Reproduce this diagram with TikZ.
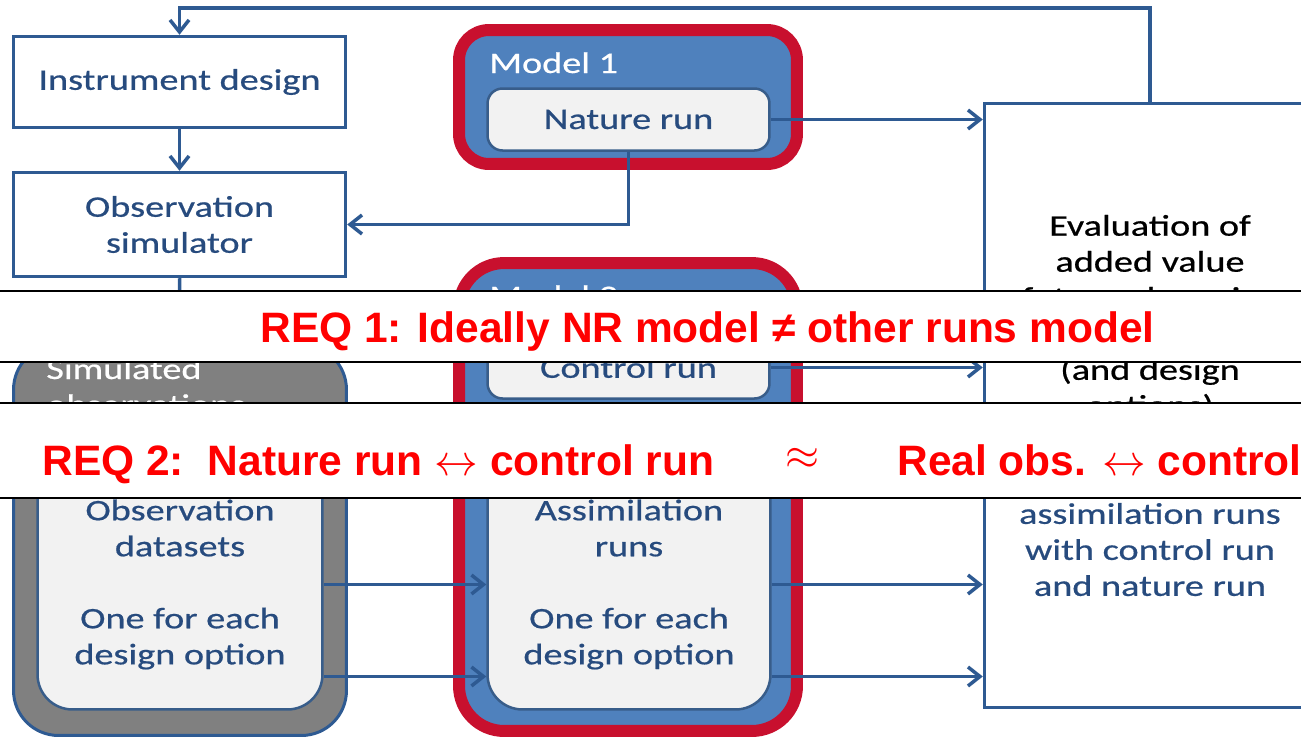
\documentclass[tikz,border=0pt]{standalone}
\usepackage{fontspec}
\setmainfont[FakeStretch=1.28, FakeBold=0.6]{Carlito}
\newfontfamily\reqfont{Liberation Sans}
\usetikzlibrary{arrows.meta}
\definecolor{linkblue}{HTML}{2E5A92}
\definecolor{txtblue}{HTML}{274B7E}
\definecolor{modelblue}{HTML}{4F81BD}
\definecolor{ringred}{HTML}{C8102E}
\definecolor{paleface}{HTML}{F2F2F2}
\definecolor{edgeblue}{HTML}{385D8A}
\tikzset{>={Straight Barb[length=2.4mm,width=3.8mm]}}
\tikzset{link/.style={draw=linkblue, line width=0.07cm}}
\tikzset{boxfont/.style={font=\fontsize{17}{20.5}\selectfont}}
\tikzset{plainbox/.style={boxfont, draw=linkblue, line width=0.07cm, fill=white, text=txtblue, align=center, minimum width=6.64cm}}
\tikzset{modelbox/.style={draw=ringred, line width=0.24cm, fill=modelblue, minimum width=6.76cm}}
\tikzset{runbox/.style={boxfont, draw=edgeblue, line width=0.05cm, fill=paleface, text=txtblue, align=center, minimum width=5.64cm}}
\tikzset{lbl/.style={boxfont, text=white, anchor=base west, inner sep=0pt}}
\tikzset{banner/.style={draw=black, line width=0.04cm, fill=white, minimum width=27cm}}
\tikzset{req/.style={font=\reqfont\bfseries\fontsize{24.2}{28}\selectfont, text=red, inner sep=0pt}}

\begin{document}
\begin{tikzpicture}[x=0.02cm, y=-0.02cm]
    \useasboundingbox (0,0) rectangle (1301,738);

    % left column
    \node[plainbox, minimum height=1.82cm] (inst) at (179.5,82) {Instrument design};
    \node[plainbox, minimum height=2.08cm] (obssim) at (179.5,224.5) {Observation\\simulator};
    \node[draw=linkblue, line width=0.06cm, fill=gray, rounded corners=0.9cm,
          minimum width=6.66cm, minimum height=7.82cm] (simobs) at (180,540) {};
    \node[lbl] (simlbl) at (46,379) {Simulated};
    \node[lbl] (simlbl2) at (46,415) {observations};
    \node[runbox, rounded corners=0.7cm, minimum width=5.7cm, minimum height=5cm] (obsdata) at (180,584.5)
        {Observation\\datasets\\[20.5pt]One for each\\design option};

    % the two models
    \node[modelbox, rounded corners=0.6cm, minimum height=2.68cm] (model1) at (628,97) {};
    \node[lbl] (m1lbl) at (489,73) {Model 1};
    \node[runbox, rounded corners=0.3cm, minimum height=1.24cm] (nature) at (628.5,119.5) {Nature run};

    \node[modelbox, rounded corners=0.9cm, minimum height=9.36cm] (model2) at (628,497) {};
    \node[lbl] (m2lbl) at (489,306) {Model 2};
    \node[runbox, rounded corners=0.3cm, minimum height=1.24cm] (control) at (628.5,367.5) {Control run};
    \node[runbox, rounded corners=0.7cm, minimum width=5.66cm, minimum height=5cm] (assim) at (629,584.5)
        {Assimilation\\runs\\[20.5pt]One for each\\design option};

    % evaluation box, runs off the right side
    \node[plainbox, minimum width=6.62cm, minimum height=12.08cm] (eval) at (1150,405.5)
        {\color{black}Evaluation of\\\color{black}added value\\\color{black}future observing\\\mbox{}\\
         \color{black}(and design\\\color{black}options)\\\mbox{}\\\mbox{}\\
         assimilation runs\\with control run\\and nature run};

    % connectors
    \coordinate (fbk) at (0,8);
    \draw[link,->] (eval.north) |- (inst.north |- fbk) -- (inst.north);
    \draw[link,->] (inst) -- (obssim);
    \draw[link,->] (obssim) -- (simobs);
    \draw[link,->] (nature.south) |- (obssim.east);
    \draw[link,->] (nature) -- (nature -| eval.west);
    \draw[link,->] (control) -- (control -| eval.west);
    \draw[link,->] (obsdata.east) -- (assim.west);
    \draw[link,->] ([yshift=-1.84cm]obsdata.east) -- ([yshift=-1.84cm]assim.west);
    \draw[link,->] (assim.east) -- (assim.east -| eval.west);
    \draw[link,->] ([yshift=-1.84cm]assim.east) -- ([yshift=-1.84cm]assim.east -| eval.west);

    % requirement banners
    \node[banner, minimum height=1.42cm] (bar1) at (650.5,326.5) {};
    \node[req, anchor=base] (req1) at (707.5,342) {REQ 1: Ideally NR model ≠ other runs model};
    \node[banner, minimum height=1.9cm] (bar2) at (650.5,450.5) {};
    \node[req, anchor=base west] (req2a) at (42,475) {REQ 2:\ \ Nature run $\leftrightarrow$ control run};
    \node[req, font=\fontsize{34}{34}\selectfont] (req2b) at (802,459) {$\approx$};
    \node[req, anchor=base west] (req2c) at (897,475) {Real obs. $\leftrightarrow$ control};
\end{tikzpicture}
\end{document}
